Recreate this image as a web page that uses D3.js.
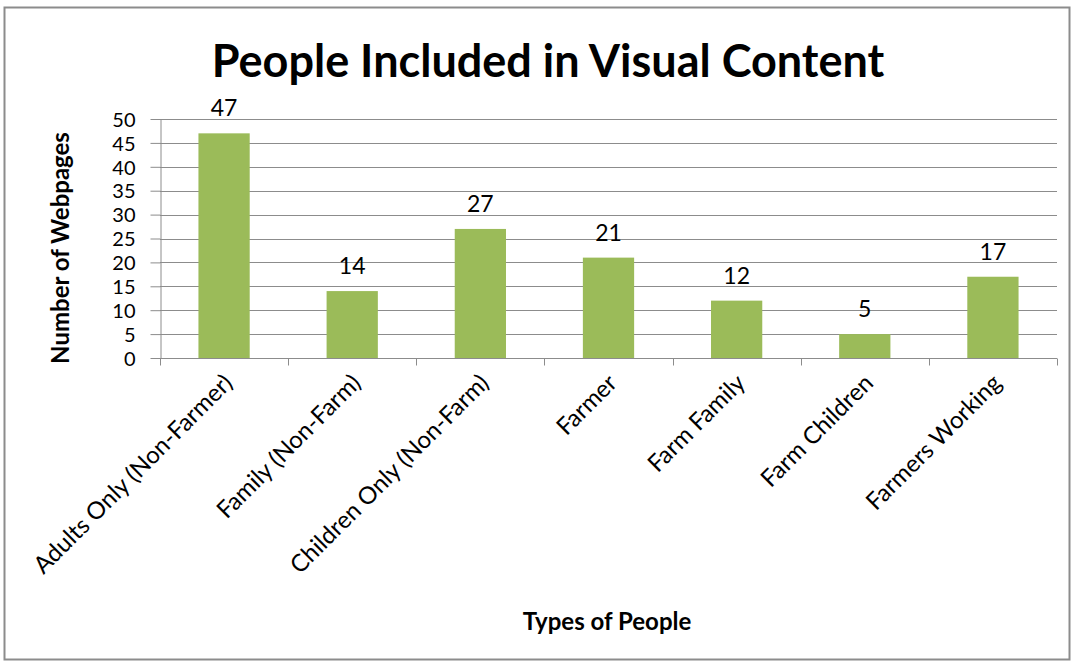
<!DOCTYPE html>
<html lang="en">
<head>
<meta charset="utf-8">
<title>People Included in Visual Content</title>
<style>
  body { margin: 0; background: #fff; }
  svg text { font-family: Lato, "Open Sans", sans-serif; fill: #000; }
  .grid line { stroke: #8c8c8c; stroke-width: 1px; }
  .axis path, .axis line { stroke: #8c8c8c; }
</style>
</head>
<body>
<div id="chart"></div>
<script src="https://cdn.jsdelivr.net/npm/d3@7"></script>
<script>
  var categories = ["Adults Only (Non-Farmer)", "Family (Non-Farm)", "Children Only (Non-Farm)",
    "Farmer", "Farm Family", "Farm Children", "Farmers Working"];
  var values = [47, 14, 27, 21, 12, 5, 17];
  var yTicks = [0, 5, 10, 15, 20, 25, 30, 35, 40, 45, 50];

  var width = 1075, height = 664;
  var margin = { top: 119, right: 18, bottom: 306, left: 160 };

  var svg = d3.select("#chart").append("svg")
      .attr("width", width)
      .attr("height", height);

  // outer frame
  svg.append("rect")
      .attr("x", 4.5).attr("y", 7.5)
      .attr("width", 1065).attr("height", 652)
      .attr("fill", "none")
      .attr("stroke", "#8c8c8c")
      .attr("stroke-width", 2);

  var x = d3.scaleBand()
      .domain(categories)
      .range([margin.left, width - margin.right])
      .paddingInner(0.6)
      .paddingOuter(0.3);

  var y = d3.scaleLinear()
      .domain([0, 50])
      .range([height - margin.bottom, margin.top]);

  // gridlines
  svg.append("g").attr("class", "grid")
    .selectAll("line")
    .data(yTicks.slice(1))
    .enter().append("line")
      .attr("x1", margin.left).attr("x2", width - margin.right)
      .attr("y1", function(d) { return Math.round(y(d)) + 0.5; })
      .attr("y2", function(d) { return Math.round(y(d)) + 0.5; });

  // bars
  svg.selectAll(".bar")
      .data(values)
    .enter().append("rect")
      .attr("class", "bar")
      .attr("x", function(d, i) { return x(categories[i]); })
      .attr("width", x.bandwidth())
      .attr("y", function(d) { return y(d); })
      .attr("height", function(d) { return y(0) - y(d); })
      .attr("fill", "#9bbb59");

  // value labels
  svg.selectAll(".val")
      .data(values)
    .enter().append("text")
      .attr("class", "val")
      .attr("x", function(d, i) { return x(categories[i]) + x.bandwidth() / 2; })
      .attr("y", function(d) { return y(d) - 17; })
      .attr("text-anchor", "middle")
      .style("font-size", "23px")
      .text(function(d) { return d; });

  // y axis
  var yAxis = svg.append("g")
      .attr("class", "axis")
      .attr("transform", "translate(" + (margin.left + 0.5) + ",0)")
      .call(d3.axisLeft(y).tickValues(yTicks).tickSize(10).tickSizeOuter(0));
  yAxis.selectAll("text")
      .attr("x", -25)
      .attr("dy", "0.36em")
      .style("font-size", "20px")
      .style("font-family", "Lato, sans-serif")
      .attr("fill", "#000");

  // x axis with category boundary ticks
  var xAxisG = svg.append("g")
      .attr("class", "axis")
      .attr("transform", "translate(0," + (y(0) + 0.5) + ")");
  xAxisG.append("line")
      .attr("x1", margin.left).attr("x2", width - margin.right)
      .attr("stroke", "#8c8c8c");
  var step = x.step();
  xAxisG.selectAll(".bt")
      .data(d3.range(categories.length + 1))
    .enter().append("line")
      .attr("class", "bt")
      .attr("x1", function(i) { return Math.round(margin.left + i * step) + 0.5; })
      .attr("x2", function(i) { return Math.round(margin.left + i * step) + 0.5; })
      .attr("y1", 0).attr("y2", 7)
      .attr("stroke", "#8c8c8c");

  xAxisG.selectAll(".xl")
      .data(categories)
    .enter().append("text")
      .attr("class", "xl")
      .attr("text-anchor", "end")
      .attr("transform", function(d) {
        var cx = x(d) + x.bandwidth() / 2 + 10;
        return "translate(" + cx + ",26) rotate(-45)";
      })
      .style("font-size", "24px")
      .text(function(d) { return d; });

  // title
  svg.append("text")
      .attr("x", 548).attr("y", 77)
      .attr("text-anchor", "middle")
      .style("font-size", "45px")
      .style("font-weight", "bold")
      .text("People Included in Visual Content");

  // axis titles
  svg.append("text")
      .attr("transform", "translate(69,248) rotate(-90)")
      .attr("text-anchor", "middle")
      .style("font-size", "24px")
      .style("font-weight", "bold")
      .text("Number of Webpages");

  svg.append("text")
      .attr("x", 607).attr("y", 630)
      .attr("text-anchor", "middle")
      .style("font-size", "24px")
      .style("font-weight", "bold")
      .text("Types of People");
</script>
</body>
</html>
